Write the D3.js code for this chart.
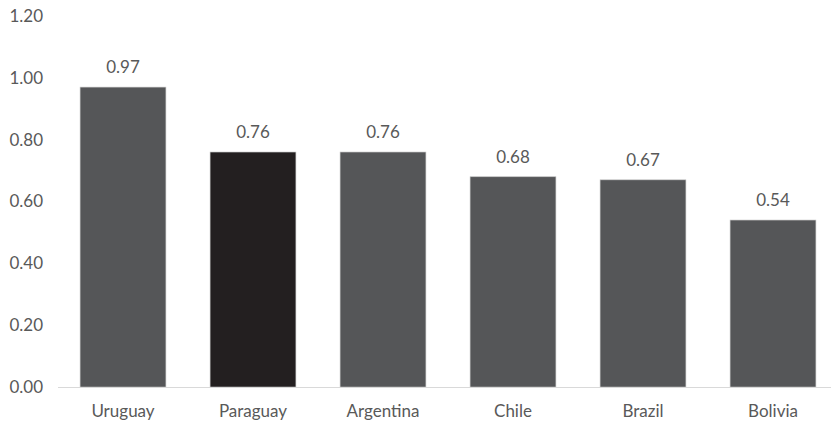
<!DOCTYPE html>
<html>
<head>
<meta charset="utf-8">
<script src="https://cdn.jsdelivr.net/npm/d3@7"></script>
<style>
  html, body { margin: 0; padding: 0; background: #ffffff; }
  svg text { font-family: Lato, "Open Sans", sans-serif; fill: #595959; }
</style>
</head>
<body>
<svg id="chart" width="831" height="421"></svg>
<script>
// Country scores
const countries = ["Uruguay", "Paraguay", "Argentina", "Chile", "Brazil", "Bolivia"];
const scores = [0.97, 0.76, 0.76, 0.68, 0.67, 0.54];
const highlighted = ["Paraguay"];
const yTicks = [0, 0.2, 0.4, 0.6, 0.8, 1.0, 1.2];

const svg = d3.select("#chart");
const x = d3.scaleBand().domain(countries).range([58, 838]).paddingInner(0.34).paddingOuter(0.17);
const y = d3.scaleLinear().domain([0, 1.2]).range([387, 16]);
const fmt = d3.format(".2f");
const fontSize = 17;

// y tick labels (no axis line, no gridlines)
svg.append("g").selectAll("text").data(yTicks).join("text")
  .attr("x", 43).attr("y", d => y(d)).attr("dy", "0.35em")
  .attr("text-anchor", "end").attr("font-size", fontSize)
  .text(d => fmt(d));

// bars
svg.append("g").selectAll("rect").data(countries).join("rect")
  .attr("x", d => x(d)).attr("width", x.bandwidth())
  .attr("y", (d, i) => y(scores[i]))
  .attr("height", (d, i) => y(0) - y(scores[i]))
  .attr("fill", d => highlighted.includes(d) ? "#231f20" : "#555658")
  .attr("stroke", "#bfbfbf").attr("stroke-width", 0.6);

// value labels
svg.append("g").selectAll("text").data(countries).join("text")
  .attr("x", d => x(d) + x.bandwidth() / 2)
  .attr("y", (d, i) => y(scores[i]) - 14)
  .attr("text-anchor", "middle").attr("font-size", fontSize)
  .text((d, i) => fmt(scores[i]));

// baseline
svg.append("line").attr("x1", 58).attr("x2", 831).attr("y1", y(0) + 0.5).attr("y2", y(0) + 0.5)
  .attr("stroke", "#d9d9d9").attr("stroke-width", 1.2);

// category labels
svg.append("g").selectAll("text").data(countries).join("text")
  .attr("x", d => x(d) + x.bandwidth() / 2).attr("y", 411)
  .attr("dy", "0.35em").attr("text-anchor", "middle").attr("font-size", fontSize)
  .text(d => d);
</script>
</body>
</html>
